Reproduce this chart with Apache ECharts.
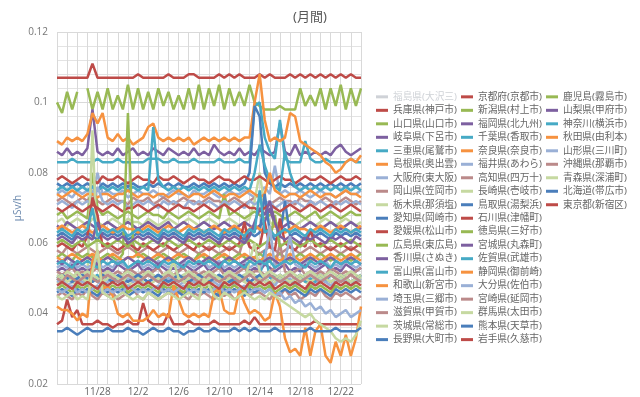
<!DOCTYPE html>
<html>
<head>
<meta charset="utf-8">
<title>(月間)</title>
<script src="https://cdn.jsdelivr.net/npm/echarts@6/dist/echarts.min.js"></script>
<style>
  html, body { margin: 0; padding: 0; background: #fff; }
  #chart { width: 640px; height: 397px; }
</style>
</head>
<body>
<div id="chart"></div>
<script>
// 月間の空間線量率, 半日ごとの読み取り値 (単位 nSv/h, 描画時に μSv/h へ換算)
const stepDays = 0.5;

const dates = ["11/24", "11/25", "11/26", "11/27", "11/28", "11/29", "11/30", "12/1", "12/2", "12/3",
    "12/4", "12/5", "12/6", "12/7", "12/8", "12/9", "12/10", "12/11", "12/12", "12/13",
    "12/14", "12/15", "12/16", "12/17", "12/18", "12/19", "12/20", "12/21", "12/22", "12/23", "12/24"];

const prefNames = [
    "福島県(大沢三)", "兵庫県(神戸市)", "山口県(山口市)", "岐阜県(下呂市)", "三重県(尾鷲市)", "島根県(奥出雲)",
    "大阪府(東大阪)", "岡山県(笠岡市)", "栃木県(那須塩)", "愛知県(岡崎市)", "愛媛県(松山市)", "広島県(東広島)",
    "香川県(さぬき)", "富山県(富山市)", "和歌山(新宮市)", "埼玉県(三郷市)", "滋賀県(甲賀市)", "茨城県(常総市)",
    "長野県(大町市)", "京都府(京都市)", "新潟県(村上市)", "福岡県(北九州)", "千葉県(香取市)", "奈良県(奈良市)",
    "福井県(あわら)", "高知県(四万十)", "長崎県(壱岐市)", "鳥取県(湯梨浜)", "石川県(津幡町)", "徳島県(三好市)",
    "宮城県(丸森町)", "佐賀県(武雄市)", "静岡県(御前崎)", "大分県(佐伯市)", "宮崎県(延岡市)", "群馬県(太田市)",
    "熊本県(天草市)", "岩手県(久慈市)", "鹿児島(霧島市)", "山梨県(甲府市)", "神奈川(横浜市)", "秋田県(由利本)",
    "山形県(三川町)", "沖縄県(那覇市)", "青森県(深浦町)", "北海道(帯広市)", "東京都(新宿区)"
];

const fukushima = [];
const hyogo = [107,107,107,107,107,107,107,111,107,107, 107,107,107,107,107,107,108,107,107,107, 107,107,108,107,107,107,108,108,107,107, 107,107,108,107,108,107,108,107,107,107, 108,107,108,107,107,107,108,107,108,107, 108,107,108,107,108,107,108,107,108,107, 107];
const yamaguchi = [100,97,103,98,103,null,104,98,103,98, 104,98,102,98,105,98,104,98,103,98, 104,99,103,98,102,98,104,98,105,98, 104,99,105,98,104,99,103,99,105,100, 99,98,98,98,99,98,98,98,104,99, 102,99,104,98,104,99,105,98,104,99, 104];
const gifu = [86,85,87,85,86,85,87,98,86,85, 86,85,87,85,86,87,85,86,85,87, 86,85,87,86,85,86,85,87,85,86, 85,88,86,85,86,85,87,85,86,85, 87,86,85,86,94,86,85,88,85,86, 85,86,85,86,85,87,88,86,85,86, 87];
const mie = [83,83,83,84,83,83,83,83,84,83, 83,83,84,83,83,83,83,83,84,84, 84,83,83,84,83,83,83,84,83,83, 83,83,84,83,83,83,84,83,83,99, 100,90,86,84,95,84,83,83,83,89, 84,83,83,84,83,83,83,83,84,83, 83];
const shimane = [89,88,90,89,90,89,91,97,94,97, 90,89,91,89,90,88,89,90,93,94, 90,89,90,89,90,89,90,88,89,90, 89,90,89,90,89,90,89,90,90,100, 108,95,89,90,89,90,97,96,89,88, 87,86,85,83,82,80,81,83,84,83, 85];
const osaka = [74,75,74,73,75,74,75,74,80,74, 75,74,74,75,73,74,75,74,74,75, 74,73,74,75,74,74,73,75,74,74, 75,74,73,74,75,74,74,75,74,73, 74,76,74,82,74,75,74,74,75,74, 73,74,75,74,74,73,74,75,74,74, 75];
const okayama = [72,73,72,71,72,73,72,74,72,71, 72,73,72,72,71,73,72,72,73,71, 72,73,72,71,72,73,72,72,71,72, 73,72,72,71,72,73,72,71,72,73, 74,72,71,72,73,72,72,71,73,72, 72,71,72,73,72,71,72,73,72,71, 72];
const tochigi = [66,67,65,66,67,66,65,67,66,65, 66,67,66,65,67,66,66,65,67,66, 65,66,67,66,65,66,67,66,65,66, 67,66,65,66,67,66,65,66,67,72, 80,70,66,65,66,67,66,65,66,67, 66,65,66,67,66,65,66,67,66,65, 66];
const aichi = [77,76,77,76,77,76,77,76,75,77, 76,77,76,77,76,77,76,76,77,76, 77,76,77,76,77,76,76,77,76,77, 76,77,76,77,76,77,76,77,80,99, 96,80,77,76,77,76,77,76,77,76, 77,76,77,76,77,76,77,76,77,76, 77];
const ehime = [78,79,78,77,78,79,78,78,77,79, 78,78,79,78,77,78,79,78,78,77, 79,78,78,79,78,77,78,79,78,78, 77,78,79,78,78,77,78,79,78,78, 79,78,77,78,79,78,78,77,78,79, 78,78,79,78,77,78,79,78,78,79, 78];
const hiroshima = [68,69,67,68,69,68,67,80,70,68, 69,68,67,68,69,68,67,68,69,68, 68,67,69,68,67,68,69,68,67,68, 69,68,67,74,68,69,68,67,68,69, 68,67,68,69,68,67,68,69,68,67, 68,69,67,68,69,68,67,68,69,68, 68];
const kagawa = [65,64,66,65,64,65,66,65,64,65, 66,65,64,65,66,65,64,65,66,65, 64,65,66,64,65,66,65,64,65,66, 65,64,65,66,65,64,65,66,65,64, 65,66,70,65,64,65,66,65,64,65, 66,65,64,65,66,65,64,65,66,65, 64];
const toyama = [75,76,75,76,75,76,75,76,75,76, 75,76,75,76,75,76,75,76,75,93, 78,76,75,76,75,76,75,76,75,76, 75,76,75,76,75,76,75,76,75,80, 88,82,78,76,75,86,80,76,75,76, 75,76,75,76,75,76,75,76,75,76, 75];
const wakayama = [74,73,74,75,74,73,74,74,73,74, 74,73,74,74,75,74,73,74,74,73, 74,74,73,74,75,74,73,74,74,73, 74,75,74,73,74,74,73,74,75,74, 73,74,80,75,74,73,74,74,73,74, 75,74,73,74,74,73,74,75,74,74, 73];
const saitama = [71,72,71,70,72,71,72,71,76,72, 71,72,71,72,70,71,72,71,72,71, 70,72,71,72,71,70,72,71,72,71, 72,71,70,72,71,72,71,70,72,71, 72,71,72,70,71,72,71,72,71,70, 72,71,72,71,70,72,71,72,71,72, 71];
const shiga = [58,57,59,58,57,58,59,58,57,58, 59,58,57,58,59,58,57,58,59,58, 57,58,59,58,57,58,59,58,57,58, 59,58,57,58,59,58,57,62,59,58, 57,58,59,58,57,58,59,58,57,58, 59,58,57,58,59,58,57,58,59,58, 57];
const ibaraki = [49,48,50,49,48,49,50,92,55,49, 48,49,50,49,48,49,50,49,48,49, 50,49,48,49,50,49,48,49,50,49, 48,49,50,49,48,49,50,49,48,49, 50,49,48,49,50,49,48,49,50,49, 48,49,50,49,48,49,50,49,48,49, 50];
const nagano = [62,63,62,61,63,62,63,62,61,63, 62,63,62,63,61,62,63,62,63,62, 61,63,62,63,62,61,63,62,63,62, 63,62,61,63,62,63,62,61,63,62, 63,74,63,61,62,72,62,63,62,61, 63,62,63,62,61,63,62,63,62,63, 62];
const kyoto = [70,69,70,71,70,69,70,71,70,69, 70,71,70,69,70,70,71,70,69,70, 71,70,69,70,71,70,70,69,70,71, 70,69,70,71,70,69,70,71,70,70, 69,70,71,70,69,70,71,70,69,70, 71,70,69,70,71,70,69,70,71,70, 69];
const niigata = [56,57,56,55,57,56,57,56,55,56, 57,56,55,57,97,60,56,57,56,55, 56,57,56,55,56,57,56,55,57,56, 55,56,57,56,55,56,57,56,55,56, 57,56,55,56,57,56,55,56,57,56, 55,56,57,56,55,56,57,56,55,56, 57];
const fukuoka = [52,53,52,54,52,53,52,53,54,52, 53,52,54,53,52,53,54,52,53,52, 54,53,52,53,52,54,53,52,53,54, 52,53,54,52,53,52,53,54,52,53, 52,54,53,52,53,54,52,53,52,54, 53,52,53,54,52,53,52,54,53,52, 53];
const chiba = [50,49,50,51,49,50,49,50,51,49, 50,49,50,49,51,50,49,50,49,50, 51,49,50,49,50,51,49,50,49,50, 49,50,51,49,50,49,50,51,49,50, 50,58,50,51,49,50,49,50,51,49, 50,49,50,49,51,50,49,50,49,50, 51];
const nara = [64,65,64,63,64,65,64,63,64,65, 64,63,64,65,64,64,63,64,65,64, 63,64,65,64,63,64,65,64,64,63, 64,65,64,63,64,65,64,63,64,65, 64,63,64,65,64,63,64,65,64,64, 63,64,65,64,63,64,65,64,63,64, 65];
const fukui = [49,50,48,49,50,49,48,50,49,48, 49,50,49,48,50,49,50,48,49,50, 49,48,50,49,48,49,50,49,48,49, 50,49,48,50,49,48,49,50,49,48, 49,50,49,48,50,49,50,48,49,50, 49,48,50,49,48,49,50,49,48,49, 50];
const kochi = [52,51,52,53,51,52,51,52,53,51, 52,51,52,51,53,52,51,52,51,52, 53,51,52,51,52,53,51,52,51,52, 51,52,53,51,52,51,52,53,51,52, 52,51,52,53,60,52,51,52,53,51, 52,51,52,51,53,52,51,52,51,52, 53];
const nagasaki = [51,50,52,51,50,51,52,51,50,51, 52,51,50,51,52,51,50,51,52,51, 50,51,52,51,50,51,52,51,50,51, 52,51,50,51,52,51,50,51,52,51, 50,51,52,51,50,51,52,51,50,51, 52,51,50,51,52,51,50,51,52,51, 50];
const tottori = [50,51,50,49,50,51,50,49,50,51, 50,49,51,50,49,50,51,50,49,50, 51,50,49,50,51,50,49,50,51,50, 49,50,51,50,49,50,51,50,49,50, 51,50,49,50,51,50,49,50,51,50, 49,50,51,50,49,50,51,50,49,50, 51];
const ishikawa = [59,60,59,58,60,59,62,73,68,59, 60,59,58,59,60,59,58,60,59,58, 59,60,59,58,59,60,59,58,60,59, 58,59,60,59,58,59,60,66,59,58, 59,66,59,58,67,60,59,58,60,59, 64,59,60,59,58,59,60,59,58,59, 60];
const tokushima = [60,61,60,59,60,61,59,60,61,60, 59,60,61,60,59,61,60,59,60,61, 60,59,61,60,59,60,61,60,59,60, 61,60,59,60,61,60,59,60,61,60, 59,60,61,68,59,60,61,60,59,60, 61,60,59,60,61,60,59,60,61,60, 59];
const miyagi = [61,62,61,60,62,61,62,61,66,62, 61,62,61,62,60,61,62,61,62,61, 60,62,61,62,61,60,62,61,62,61, 62,61,60,62,61,62,61,60,62,66, 70,68,72,66,62,61,62,61,60,62, 61,62,61,60,62,61,62,61,60,62, 61];
const saga = [63,64,63,62,64,63,64,70,62,64, 63,64,63,64,62,63,64,63,64,63, 62,64,63,64,63,62,64,63,64,63, 64,63,62,64,63,64,63,62,64,63, 75,63,64,62,63,64,63,64,63,62, 64,63,64,63,62,64,63,64,63,64, 63];
const shizuoka = [56,55,56,57,56,55,56,57,56,55, 56,57,56,55,56,56,57,56,55,56, 57,56,55,56,57,56,56,55,56,57, 56,55,56,57,56,55,56,57,56,56, 55,56,57,56,55,56,57,56,55,56, 57,56,55,56,57,56,55,56,57,56, 55];
const oita = [53,54,53,55,53,54,53,54,55,53, 54,53,55,54,53,54,55,53,54,53, 55,54,53,54,53,55,54,53,54,55, 53,54,55,53,54,53,54,55,53,54, 53,55,65,53,54,55,62,54,53,55, 54,53,54,55,53,54,53,55,54,53, 54];
const miyazaki = [45,46,45,44,46,45,47,45,44,46, 45,46,44,45,46,47,45,44,46,45, 44,45,46,45,47,45,44,46,45,46, 45,44,46,45,46,44,45,47,45,46, 46,45,44,46,45,47,45,46,44,45, 46,45,47,45,44,46,45,46,45,44, 45];
const gunma = [50,51,49,50,52,50,49,51,50,49, 50,51,50,49,51,50,49,50,51,50, 49,50,51,55,50,49,50,51,50,49, 50,51,50,49,50,51,50,49,55,60, 52,50,49,50,51,50,49,50,51,50, 49,50,51,50,49,50,51,50,49,50, 51];
const kumamoto = [46,47,46,45,47,46,47,46,45,47, 46,47,46,47,45,46,47,46,47,46, 45,47,46,47,46,45,47,46,47,46, 47,46,45,47,46,47,46,45,47,46, 47,46,47,45,46,47,46,47,46,45, 47,46,47,46,45,47,46,47,46,47, 46];
const iwate = [37,38,44,39,41,37,37,37,38,37, 37,36,37,37,38,37,37,43,38,37, 37,37,40,37,37,37,38,37,37,37, 37,38,37,37,37,37,37,38,37,39, 37,37,37,37,37,37,37,37,37,37, 37,38,37,37,37,37,37,37,37,37, 37];
const kagoshima = [47,48,47,46,48,47,48,47,46,48, 47,48,47,48,46,47,48,47,48,47, 46,48,47,48,47,46,48,47,48,47, 48,47,46,48,47,48,47,46,48,47, 48,47,48,46,47,48,47,48,47,46, 48,47,48,47,46,48,47,48,47,48, 47];
const yamanashi = [55,54,56,55,54,55,56,55,54,55, 56,55,54,55,56,55,54,55,56,55, 54,55,56,55,54,55,56,55,54,55, 56,55,54,55,56,55,54,55,56,55, 54,55,56,55,54,55,56,55,54,55, 56,55,54,55,56,55,54,55,56,55, 54];
const kanagawa = [54,55,54,53,55,54,55,54,53,55, 54,55,54,55,53,54,55,54,55,54, 53,55,54,55,54,53,55,54,55,54, 55,54,53,55,54,55,54,53,55,54, 55,54,55,53,54,55,54,55,54,53, 55,54,55,54,53,55,54,55,54,55, 54];
const akita = [42,41,41,40,38,40,39,55,58,47, 48,45,40,39,40,38,38,38,39,41, 39,40,39,48,44,40,39,40,39,40, 39,46,47,41,40,40,47,43,40,41, 40,38,39,46,42,33,29,30,28,36, 28,35,37,28,26,32,28,34,28,33, 42];
const yamagata = [47,46,47,48,46,47,46,47,48,46, 47,46,47,46,48,47,46,47,46,47, 48,46,47,46,47,48,46,47,46,47, 46,47,48,46,47,46,47,48,46,47, 47,46,47,45,46,44,45,43,44,42, 43,41,42,40,41,39,40,41,39,40, 41];
const okinawa = [50,49,51,50,49,50,51,50,49,50, 51,50,49,50,51,50,49,50,51,50, 49,50,51,50,49,50,51,50,49,50, 51,50,49,50,51,50,49,50,51,50, 49,50,51,50,49,50,51,50,49,50, 51,50,49,50,51,50,49,50,51,50, 49];
const aomori = [45,44,45,46,44,45,44,52,58,46, 45,44,45,46,45,44,45,44,46,45, 44,45,46,45,44,45,46,45,44,50, 48,45,44,46,45,44,45,46,45,44, 45,44,46,45,44,43,42,41,40,39, 40,38,37,36,35,33,32,33,32,34, 38];
const hokkaido = [35,35,36,35,34,35,36,35,35,35, 36,35,35,35,36,35,35,34,35,36, 35,35,36,35,35,34,35,35,36,35, 35,36,35,35,35,36,35,36,35,36, 35,35,35,36,35,35,35,35,35,35, 36,35,35,35,35,36,35,35,35,35, 36];
const tokyo = [48,49,48,47,49,48,49,48,47,49, 48,49,48,49,47,48,49,48,49,48, 47,49,48,49,48,47,49,48,49,48, 49,48,47,49,48,49,48,47,49,48, 49,48,49,47,48,49,48,49,48,47, 49,48,49,48,47,49,48,49,48,49, 48];

const prefValues = [
    fukushima, hyogo, yamaguchi, gifu, mie, shimane,
    osaka, okayama, tochigi, aichi, ehime, hiroshima,
    kagawa, toyama, wakayama, saitama, shiga, ibaraki,
    nagano, kyoto, niigata, fukuoka, chiba, nara,
    fukui, kochi, nagasaki, tottori, ishikawa, tokushima,
    miyagi, saga, shizuoka, oita, miyazaki, gunma,
    kumamoto, iwate, kagoshima, yamanashi, kanagawa, akita,
    yamagata, okinawa, aomori, hokkaido, tokyo
];

const palette = ["#4A7EBB", "#BE4B48", "#98B954", "#7D60A0", "#46AAC5", "#F69240", "#9AB0D6", "#BB8A8A", "#C6D9A1"];
const jpFont = "'Noto Sans', 'Noto Sans CJK JP', sans-serif";

// 凡例は3列, 縦並び
const legendColumn = (names, left, extra) => Object.assign({
    data: names,
    orient: "vertical",
    left: left,
    top: 92,
    padding: 0,
    icon: "rect",
    itemWidth: 12,
    itemHeight: 3,
    itemGap: 3.8,
    textStyle: { fontSize: 9.7, color: "#666", fontFamily: jpFont }
}, extra || {});

const chart = echarts.init(document.getElementById("chart"));

const option = {
    animation: false,
    color: palette,
    title: {
        text: "(月間)",
        left: 288,
        top: 6,
        textStyle: { fontSize: 13, fontWeight: "normal", color: "#595959", fontFamily: jpFont }
    },
    legend: [
        legendColumn(prefNames.slice(0, 19), 376, { selected: { "福島県(大沢三)": false } }),
        legendColumn(prefNames.slice(19, 38), 461),
        legendColumn(prefNames.slice(38), 546)
    ],
    grid: { left: 57, right: 279, top: 32, bottom: 11 },
    xAxis: {
        type: "value",
        min: 0,
        max: 30,
        interval: 1,
        axisLine: { show: false },
        axisTick: { show: false },
        axisLabel: {
            margin: 3,
            fontSize: 10,
            color: "#666",
            fontFamily: "Open Sans",
            formatter: v => (v > 0 && v % 4 === 0 ? dates[v] : "")
        },
        splitLine: { show: true, lineStyle: { color: "#d9d9d9", width: 1 } }
    },
    yAxis: {
        type: "value",
        min: 0.02,
        max: 0.12,
        interval: 0.02,
        name: "μSv/h",
        nameLocation: "middle",
        nameGap: 34,
        nameTextStyle: { fontSize: 10, color: "#6a88ad", fontFamily: "Open Sans" },
        axisLine: { show: false },
        axisTick: { show: false },
        axisLabel: { margin: 9, fontSize: 10, color: "#777", fontFamily: "Open Sans" },
        splitLine: { show: true, lineStyle: { color: "#d9d9d9", width: 1 } },
        minorTick: { show: false, splitNumber: 5 },
        minorSplitLine: { show: true, lineStyle: { color: "#e3e3e3", width: 1 } }
    },
    series: prefNames.map((name, k) => ({
        name: name,
        type: "line",
        symbol: "none",
        lineStyle: { width: 2.5 },
        data: prefValues[k].map((v, i) => [i * stepDays, v === null ? null : v / 1000])
    }))
};

chart.setOption(option);
</script>
</body>
</html>
